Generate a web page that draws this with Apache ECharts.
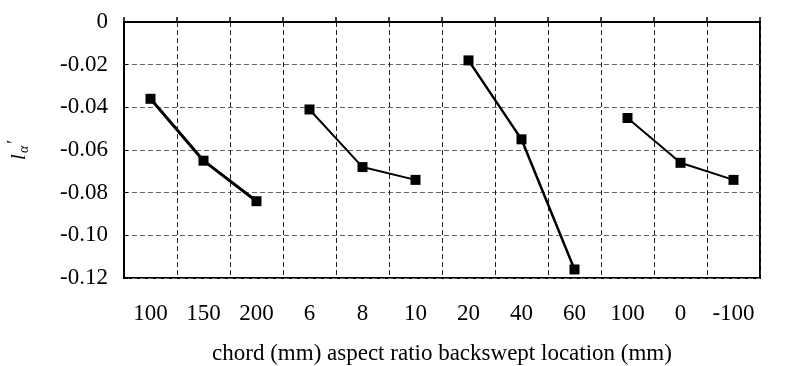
<!DOCTYPE html>
<html>
<head>
<meta charset="utf-8">
<script src="https://cdn.jsdelivr.net/npm/echarts@6/dist/echarts.min.js"></script>
<style>html,body{margin:0;padding:0;background:#fff;}#c{width:792px;height:366px;}</style>
</head>
<body>
<div id="c"></div>
<script>
var categories = ['100', '150', '200', '6', '8', '10', '20', '40', '60', '100 ', '0', '-100'];
var chordValues = [-0.036, -0.065, -0.084, null, null, null, null, null, null, null, null, null];
var aspectValues = [null, null, null, -0.041, -0.068, -0.074, null, null, null, null, null, null];
var backsweptValues = [null, null, null, null, null, null, -0.018, -0.055, -0.116, null, null, null];
var locationValues = [null, null, null, null, null, null, null, null, null, -0.045, -0.066, -0.074];
var yTicks = [0, -0.02, -0.04, -0.06, -0.08, -0.10, -0.12];
var xTitle = 'chord (mm) aspect ratio backswept location (mm)';

var font = 'Liberation Serif';
function mk(name, data, w) {
  return {
    name: name, type: 'line', data: data, connectNulls: false,
    symbol: 'rect', symbolSize: 10, showSymbol: true,
    lineStyle: { color: '#000', width: w },
    itemStyle: { color: '#000' },
    animation: false
  };
}
var chart = echarts.init(document.getElementById('c'), null, { renderer: 'canvas' });
chart.setOption({
  backgroundColor: '#fff',
  animation: false,
  grid: { left: 124, right: 32, top: 22, bottom: 88, outerBoundsMode: 'none', containLabel: false,
    show: true, borderColor: '#000', borderWidth: 2, backgroundColor: 'transparent' },
  xAxis: {
    type: 'category', data: categories, boundaryGap: true,
    axisLine: { show: true, lineStyle: { color: '#000', width: 2 } },
    axisTick: { show: true, inside: true, length: 5, lineStyle: { color: '#000', width: 1.5 } },
    axisLabel: { color: '#000', fontFamily: font, fontSize: 23, margin: 24, interval: 0,
      formatter: function (v) { return v.trim(); } },
    splitLine: { show: true, lineStyle: { color: '#222', type: [5, 3], width: 1 } },
    name: xTitle, nameLocation: 'middle', nameGap: 64,
    nameTextStyle: { color: '#000', fontFamily: font, fontSize: 23 }
  },
  yAxis: {
    type: 'value', min: -0.12, max: 0, interval: 0.02,
    axisLine: { show: true, lineStyle: { color: '#000', width: 2 } },
    axisTick: { show: true, inside: true, length: 4, lineStyle: { color: '#000', width: 1 } },
    axisLabel: { color: '#000', fontFamily: font, fontSize: 23, margin: 16,
      formatter: function (v) {
        var t = yTicks.find(function (k) { return Math.abs(k - v) < 1e-9; });
        if (t === undefined) return '';
        return t === 0 ? '0' : t.toFixed(2);
      } },
    splitLine: { show: true, lineStyle: { color: '#666', type: [5, 3], width: 1 } },
    name: '{l|l}{a|α}{p|′}', nameLocation: 'middle', nameGap: 92, nameRotate: 90,
    nameTextStyle: { color: '#000', fontFamily: font,
      rich: {
        l: { fontFamily: font, fontStyle: 'italic', fontSize: 22, color: '#000' },
        a: { fontFamily: font, fontStyle: 'italic', fontSize: 14, color: '#000', padding: [10, 2, 0, 1] },
        p: { fontFamily: font, fontSize: 18, color: '#000', padding: [0, 0, 8, 0] }
      } }
  },
  series: [
    mk('chord', chordValues, 3),
    mk('aspect', aspectValues, 2),
    mk('backswept', backsweptValues, 2.5),
    mk('location', locationValues, 2)
  ]
});
</script>
</body>
</html>
